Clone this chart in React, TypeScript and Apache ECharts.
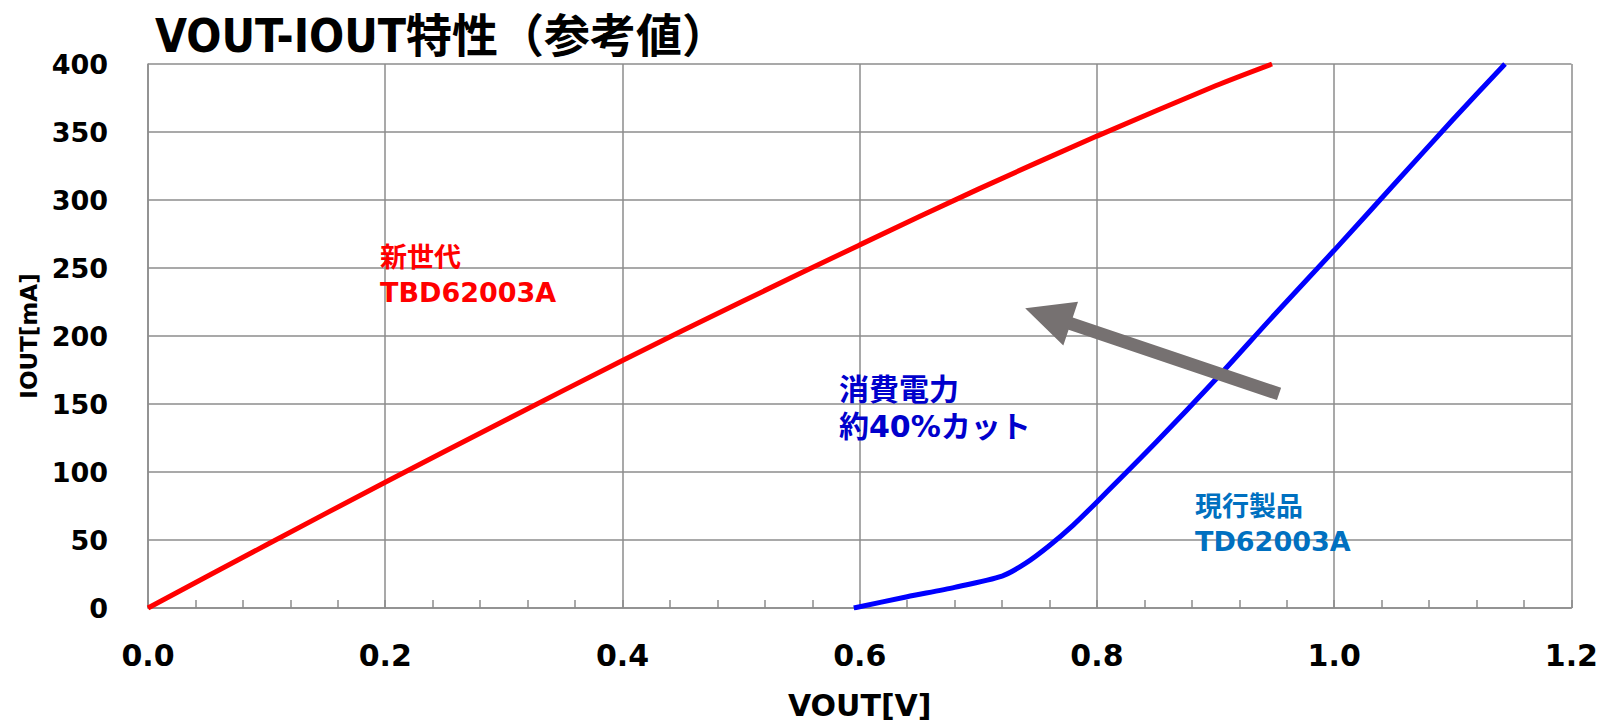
import React, { useEffect, useRef } from "react";
import * as echarts from "echarts";

// ---- data ----
const redVout = [0, 0.1, 0.2, 0.3, 0.4, 0.5, 0.6, 0.7, 0.8, 0.9, 0.9476];
const redIout = [0, 46.5, 92.5, 137.5, 182, 225, 267, 308, 347, 384, 400];

const blueVout = [0.595, 0.64, 0.68, 0.72, 0.74, 0.76, 0.78, 0.8, 0.85, 0.9, 0.95, 1.0, 1.05, 1.1, 1.144];
const blueIout = [0, 8.3, 15.2, 23.5, 33, 46, 61, 78, 122, 168, 216, 263, 311, 359, 400];

const xMin = 0;
const xMax = 1.2;
const xStep = 0.2;
const yMin = 0;
const yMax = 400;
const yStep = 50;

const titleText = "VOUT-IOUT特性（参考値）";
const xName = "VOUT[V]";
const yName = "IOUT[mA]";
const newGenLabel = ["新世代", "TBD62003A"];
const currentLabel = ["現行製品", "TD62003A"];
const savingLabel = ["消費電力", "約40%カット"];
// arrow in data coordinates: [VOUT, IOUT]
const arrowTail = [0.9535, 157.4];
const arrowTip = [0.7395, 220.4];

const GRID_COLOR = "#8c8c8c";
const FONT = "'DejaVu Sans', 'Noto Sans CJK JP', sans-serif";

const zip = (a: number[], b: number[]) => a.map((v, i) => [v, b[i]]);

export default function App() {
  const ref = useRef<HTMLDivElement>(null);

  useEffect(() => {
    if (!ref.current) return;
    const chart = echarts.init(ref.current, null, { renderer: "svg" });
    const option: any = {
      animation: false,
      backgroundColor: "#ffffff",
      grid: { left: 148, right: 27, top: 64, bottom: 119, containLabel: false },
      xAxis: {
        type: "value",
        min: xMin,
        max: xMax,
        interval: xStep,
        name: xName,
        nameLocation: "middle",
        nameGap: 82,
        nameTextStyle: { fontFamily: FONT, fontWeight: "bold", fontSize: 30, color: "#000" },
        axisLine: { show: true, lineStyle: { color: GRID_COLOR, width: 1.5 } },
        axisTick: { show: true, inside: true, length: 8, lineStyle: { color: GRID_COLOR, width: 1.5 } },
        minorTick: { show: true, splitNumber: 5, length: 8, lineStyle: { color: GRID_COLOR, width: 1.5 } },
        splitLine: { show: true, lineStyle: { color: GRID_COLOR, width: 1.5 } },
        axisLabel: {
          fontFamily: FONT,
          fontWeight: "bold",
          fontSize: 30,
          color: "#000",
          margin: 32,
          formatter: (v: number) => v.toFixed(1),
        },
      },
      yAxis: {
        type: "value",
        min: yMin,
        max: yMax,
        interval: yStep,
        name: yName,
        nameLocation: "middle",
        nameGap: 106,
        nameRotate: 90,
        nameTextStyle: { fontFamily: FONT, fontWeight: "bold", fontSize: 23, color: "#000" },
        axisLine: { show: true, lineStyle: { color: GRID_COLOR, width: 1.5 } },
        axisTick: { show: false },
        splitLine: { show: true, lineStyle: { color: GRID_COLOR, width: 1.5 } },
        axisLabel: {
          fontFamily: FONT,
          fontWeight: "bold",
          fontSize: 27,
          color: "#000",
          margin: 40,
        },
      },
      series: [
        {
          type: "line",
          name: "TBD62003A",
          data: zip(redVout, redIout),
          showSymbol: false,
          smooth: 0.25,
          lineStyle: { color: "#ff0000", width: 5 },
          z: 3,
        },
        {
          type: "line",
          name: "TD62003A",
          data: zip(blueVout, blueIout),
          showSymbol: false,
          smooth: 0.25,
          lineStyle: { color: "#0000ff", width: 5 },
          z: 3,
        },
      ],
    };
    chart.setOption(option);

    const tail = chart.convertToPixel({ gridIndex: 0 }, arrowTail) as number[];
    const tip = chart.convertToPixel({ gridIndex: 0 }, arrowTip) as number[];
    const dx = tip[0] - tail[0];
    const dy = tip[1] - tail[1];
    const len = Math.sqrt(dx * dx + dy * dy);
    const ux = dx / len;
    const uy = dy / len;
    const nx = -uy;
    const ny = ux;
    const headLen = 48;
    const headHalf = 23;
    const shaftHalf = 6.5;
    const bx = tip[0] - ux * headLen;
    const by = tip[1] - uy * headLen;
    const arrowPoints = [
      [tail[0] + nx * shaftHalf, tail[1] + ny * shaftHalf],
      [bx + nx * shaftHalf, by + ny * shaftHalf],
      [bx + nx * headHalf, by + ny * headHalf],
      [tip[0], tip[1]],
      [bx - nx * headHalf, by - ny * headHalf],
      [bx - nx * shaftHalf, by - ny * shaftHalf],
      [tail[0] - nx * shaftHalf, tail[1] - ny * shaftHalf],
    ];

    const txt = (text: string, x: number, y: number, size: number, color: string, family = FONT) => ({
      type: "text",
      x,
      y,
      z: 10,
      style: {
        text,
        fill: color,
        font: `bold ${size}px ${family}`,
        textAlign: "left",
        textVerticalAlign: "middle",
      },
    });

    chart.setOption({
      graphic: [
        txt(titleText, 155, 36, 46, "#000", "'DejaVu Sans Condensed', 'Noto Sans CJK JP', sans-serif"),
        txt(newGenLabel[0], 380, 257, 27, "#ff0000"),
        txt(newGenLabel[1], 380, 292, 27, "#ff0000"),
        txt(currentLabel[0], 1195, 506, 27, "#0070c0"),
        txt(currentLabel[1], 1195, 541, 27, "#0070c0"),
        txt(savingLabel[0], 839, 389, 30, "#0000cc"),
        txt(savingLabel[1], 839, 426, 30, "#0000cc"),
        {
          type: "polygon",
          z: 8,
          shape: { points: arrowPoints },
          style: { fill: "#767171" },
        },
      ],
    });

    return () => chart.dispose();
  }, []);

  return (
    <div
      ref={ref}
      style={{ position: "fixed", left: 0, top: 0, width: 1601, height: 727, background: "#fff" }}
    />
  );
}
